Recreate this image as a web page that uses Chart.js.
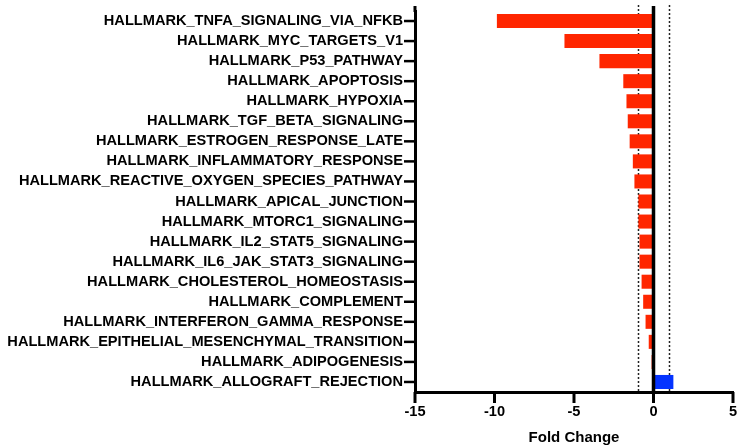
<!DOCTYPE html>
<html>
<head>
<meta charset="utf-8">
<script src="https://cdn.jsdelivr.net/npm/chart.js@4"></script>
<style>
  body{ margin:0; background:#fff; }
  #wrap{ width:739px; height:448px; }
</style>
</head>
<body>
<div id="wrap"><canvas id="gseaChart" width="739" height="448"></canvas></div>
<script>
// ===============================
// DATA
// ===============================

const pathways = [
    "HALLMARK_TNFA_SIGNALING_VIA_NFKB",
    "HALLMARK_MYC_TARGETS_V1",
    "HALLMARK_P53_PATHWAY",
    "HALLMARK_APOPTOSIS",
    "HALLMARK_HYPOXIA",
    "HALLMARK_TGF_BETA_SIGNALING",
    "HALLMARK_ESTROGEN_RESPONSE_LATE",
    "HALLMARK_INFLAMMATORY_RESPONSE",
    "HALLMARK_REACTIVE_OXYGEN_SPECIES_PATHWAY",
    "HALLMARK_APICAL_JUNCTION",
    "HALLMARK_MTORC1_SIGNALING",
    "HALLMARK_IL2_STAT5_SIGNALING",
    "HALLMARK_IL6_JAK_STAT3_SIGNALING",
    "HALLMARK_CHOLESTEROL_HOMEOSTASIS",
    "HALLMARK_COMPLEMENT",
    "HALLMARK_INTERFERON_GAMMA_RESPONSE",
    "HALLMARK_EPITHELIAL_MESENCHYMAL_TRANSITION",
    "HALLMARK_ADIPOGENESIS",
    "HALLMARK_ALLOGRAFT_REJECTION"
];

const foldChange = [
    -9.85, -5.6, -3.4, -1.9, -1.7, -1.62, -1.5, -1.3, -1.2, -0.95,
    -0.95, -0.88, -0.88, -0.75, -0.65, -0.5, -0.3, -0.12, 1.25
];

const xTicks = [-15, -10, -5, 0, 5];

// dotted cut-off lines
const cutoffs = [-1, 1];

const downColor = "#FF2600";
const upColor = "#0433FF";

// ===============================
// PLUGIN : cutoff + zero line + tick marks
// ===============================

const refLines = {

    id:"refLines",

    beforeDatasetsDraw(chart){

        const {ctx, chartArea, scales} = chart;

        ctx.save();
        ctx.strokeStyle = "#222";
        ctx.lineWidth = 1.5;
        ctx.setLineDash([2,2]);

        cutoffs.forEach(v=>{
            const x = Math.round(scales.x.getPixelForValue(v)) + 0.5;
            ctx.beginPath();
            ctx.moveTo(x, chartArea.top - 6);
            ctx.lineTo(x, chartArea.bottom);
            ctx.stroke();
        });

        ctx.restore();

    },

    afterDraw(chart){

        const {ctx, chartArea, scales} = chart;

        ctx.save();
        ctx.setLineDash([]);
        ctx.strokeStyle = "#000";

        // zero line
        ctx.lineWidth = 3.5;
        const x0 = scales.x.getPixelForValue(0);
        ctx.beginPath();
        ctx.moveTo(x0, chartArea.top - 5);
        ctx.lineTo(x0, chartArea.bottom);
        ctx.stroke();

        // y axis runs a little above the first band
        ctx.lineWidth = 3;
        ctx.beginPath();
        ctx.moveTo(chartArea.left, chartArea.top - 5);
        ctx.lineTo(chartArea.left, chartArea.top + 1);
        ctx.stroke();

        // y tick marks at band centres
        ctx.lineWidth = 2.5;
        pathways.forEach((p,i)=>{
            const y = scales.y.getPixelForValue(i);
            ctx.beginPath();
            ctx.moveTo(chartArea.left - 11, y);
            ctx.lineTo(chartArea.left, y);
            ctx.stroke();
        });

        // x tick marks
        ctx.lineWidth = 3;
        xTicks.forEach(v=>{
            const x = scales.x.getPixelForValue(v);
            ctx.beginPath();
            ctx.moveTo(x, chartArea.bottom);
            ctx.lineTo(x, chartArea.bottom + 11);
            ctx.stroke();
        });

        ctx.restore();

    }

};

// ===============================
// CHART
// ===============================

const labelFont = { family:"'Liberation Sans', Arial, Helvetica, sans-serif", size:14.6, weight:"bold" };

const ctx = document.getElementById("gseaChart").getContext("2d");

const chart = new Chart(ctx,{

    type:"bar",

    data:{

        labels:pathways,

        datasets:[{

            label:"Fold Change",

            data:foldChange,

            backgroundColor:foldChange.map(v => v < 0 ? downColor : upColor),

            borderWidth:0,

            categoryPercentage:1,

            barPercentage:0.7

        }]

    },

    options:{

        indexAxis:"y",

        responsive:false,

        animation:false,

        devicePixelRatio:1,

        layout:{ padding:{ top:11, right:6, left:0, bottom:0 } },

        plugins:{
            legend:{ display:false },
            tooltip:{ enabled:false }
        },

        scales:{

            x:{

                type:"linear",

                min:-15,

                max:5,

                afterBuildTicks(scale){
                    scale.ticks = xTicks.map(v => ({ value:v }));
                },

                afterFit(scale){
                    scale.height = 56;
                    scale.paddingLeft = 0;
                    scale.paddingRight = 0;
                },

                border:{ display:true, color:"#000", width:3 },

                grid:{
                    display:true,
                    drawOnChartArea:false,
                    tickLength:10,
                    tickColor:"rgba(0,0,0,0)"
                },

                ticks:{
                    color:"#000",
                    font:labelFont,
                    padding:1,
                    maxRotation:0
                },

                title:{
                    display:true,
                    text:"Fold Change",
                    color:"#000",
                    font:{ family:labelFont.family, size:15, weight:"bold" },
                    padding:{ top:0, bottom:1 }
                }

            },

            y:{

                afterFit(scale){
                    scale.width = 415;
                    scale.paddingTop = 0;
                    scale.paddingBottom = 0;
                },

                border:{ display:true, color:"#000", width:3 },

                grid:{
                    display:true,
                    drawOnChartArea:false,
                    tickLength:11,
                    tickColor:"rgba(0,0,0,0)"
                },

                ticks:{
                    color:"#000",
                    font:labelFont,
                    padding:1,
                    autoSkip:false
                }

            }

        }

    },

    plugins:[refLines]

});
</script>
</body>
</html>
